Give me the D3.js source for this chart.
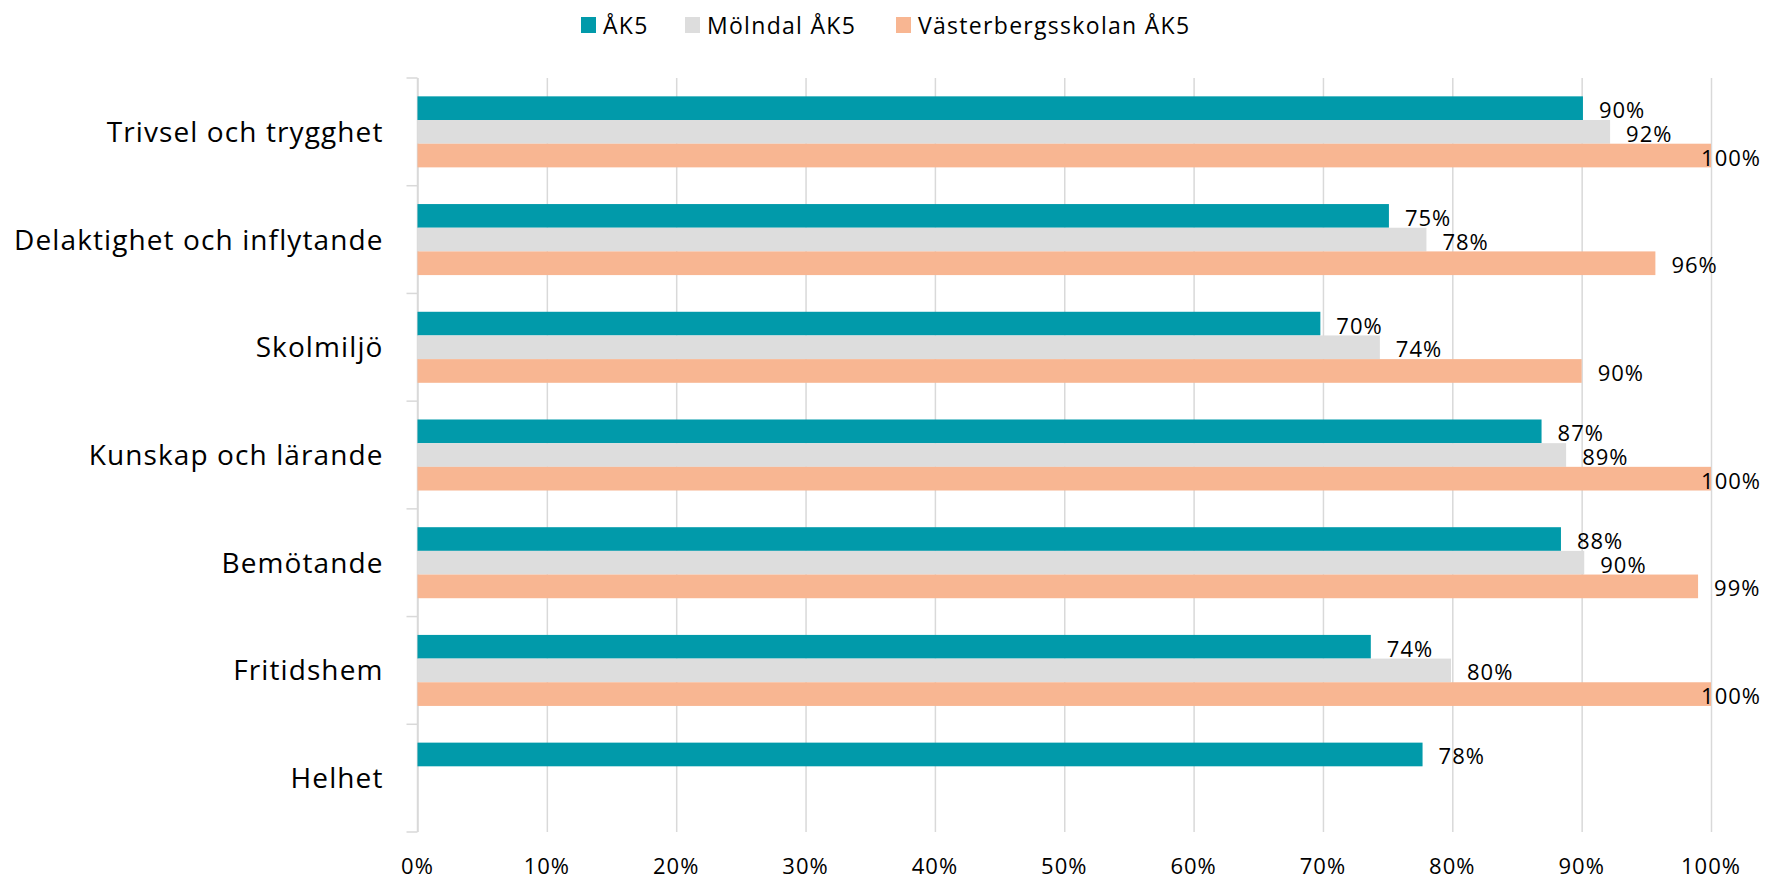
<!DOCTYPE html>
<html>

<head>
    <title>ÅK5 enkät</title>
    <script src="https://d3js.org/d3.v7.min.js"></script>
    <style>
        body {
            margin: 0;
            background-color: #ffffff;
        }

        text {
            font-family: "Open Sans", "Noto Sans", sans-serif;
            fill: #000000;
        }

        .grid line {
            stroke: #d9d9d9;
            stroke-width: 1.5;
        }

        .grid .domain {
            display: none;
        }
    </style>
</head>

<body>
    <svg id="chart" width="1765" height="878"></svg>

    <script>
        // data
        var categories = ["Trivsel och trygghet", "Delaktighet och inflytande", "Skolmiljö",
            "Kunskap och lärande", "Bemötande", "Fritidshem", "Helhet"];
        var seriesNames = ["ÅK5", "Mölndal ÅK5", "Västerbergsskolan ÅK5"];
        var seriesColors = ["#019aaa", "#dddddd", "#f8b692"];
        var ak5 = [0.901, 0.751, 0.698, 0.869, 0.884, 0.737, 0.777];
        var molndal = [0.922, 0.780, 0.744, 0.888, 0.902, 0.799, null];
        var vasterberg = [1.0, 0.957, 0.900, 1.0, 0.990, 1.0, null];
        var xTicks = [0, 0.1, 0.2, 0.3, 0.4, 0.5, 0.6, 0.7, 0.8, 0.9, 1.0];

        var seriesValues = [ak5, molndal, vasterberg];

        var plotLeft = 417.5,
            plotRight = 1711,
            plotTop = 78,
            plotBottom = 832;

        var svg = d3.select("#chart");

        var xScale = d3.scaleLinear().domain([0, 1]).range([plotLeft, plotRight]);
        var y0 = d3.scaleBand().domain(categories).range([plotTop, plotBottom]).padding(0);
        var y1 = d3.scaleBand().domain(seriesNames).range([0, y0.bandwidth()])
            .paddingInner(0).paddingOuter(0.775);

        // vertical gridlines
        svg.append("g")
            .attr("class", "grid")
            .attr("transform", "translate(0," + plotBottom + ")")
            .call(d3.axisBottom(xScale).tickValues(xTicks).tickSize(-(plotBottom - plotTop)).tickFormat(""));

        // x tick labels
        svg.append("g").selectAll("text")
            .data(xTicks)
            .enter()
            .append("text")
            .attr("x", function(d) { return xScale(d); })
            .attr("y", 874)
            .attr("text-anchor", "middle")
            .style("font-size", "22px")
            .style("letter-spacing", "1px")
            .text(d3.format(".0%"));

        // y axis line and ticks at band edges
        var yAxis = svg.append("g");
        yAxis.append("line")
            .attr("x1", plotLeft).attr("x2", plotLeft)
            .attr("y1", plotTop).attr("y2", plotBottom)
            .attr("stroke", "#d9d9d9").attr("stroke-width", 1.5);
        var edges = categories.map(function(c) { return y0(c); }).concat([plotBottom]);
        yAxis.selectAll(".tick")
            .data(edges)
            .enter()
            .append("line")
            .attr("class", "tick")
            .attr("x1", plotLeft - 11).attr("x2", plotLeft)
            .attr("y1", function(d) { return d; })
            .attr("y2", function(d) { return d; })
            .attr("stroke", "#d9d9d9").attr("stroke-width", 1.5);

        // category labels
        svg.append("g").selectAll("text")
            .data(categories)
            .enter()
            .append("text")
            .attr("x", plotLeft - 34)
            .attr("y", function(d) { return y0(d) + y0.bandwidth() / 2 + 10; })
            .attr("text-anchor", "end")
            .style("font-size", "28px")
            .style("letter-spacing", "1.1px")
            .text(function(d) { return d; });

        // bars
        var rows = [];
        categories.forEach(function(c, i) {
            seriesNames.forEach(function(s, j) {
                var v = seriesValues[j][i];
                if (v !== null) rows.push({ cat: c, series: s, idx: j, value: v });
            });
        });

        var bars = svg.append("g");
        bars.selectAll("rect")
            .data(rows)
            .enter()
            .append("rect")
            .attr("x", xScale(0))
            .attr("y", function(d) { return y0(d.cat) + y1(d.series); })
            .attr("width", function(d) { return xScale(d.value) - xScale(0); })
            .attr("height", y1.bandwidth())
            .attr("fill", function(d) { return seriesColors[d.idx]; });

        // value labels
        bars.selectAll(".val")
            .data(rows)
            .enter()
            .append("text")
            .attr("class", "val")
            .attr("y", function(d) { return y0(d.cat) + y1(d.series) + y1.bandwidth() / 2 + 10; })
            .style("font-size", "22px")
            .style("letter-spacing", "1px")
            .text(function(d) { return d3.format(".0%")(d.value); })
            .attr("x", function(d) {
                var w = this.getComputedTextLength();
                return Math.min(xScale(d.value) + 16, 1761 - w);
            });

        // legend
        var legendX = [581, 685, 896];
        var legend = svg.append("g");
        seriesNames.forEach(function(s, j) {
            legend.append("rect")
                .attr("x", legendX[j]).attr("y", 17)
                .attr("width", 15).attr("height", 16)
                .attr("fill", seriesColors[j]);
            legend.append("text")
                .attr("x", legendX[j] + 22).attr("y", 33.5)
                .style("font-size", "23px")
                .style("letter-spacing", "1.3px")
                .text(s);
        });
    </script>
</body>

</html>
